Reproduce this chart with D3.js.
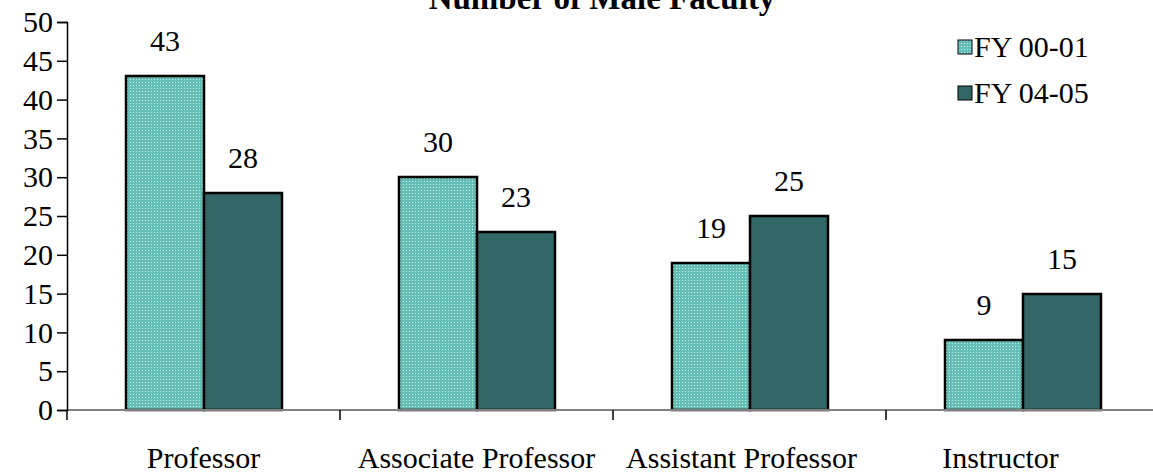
<!DOCTYPE html>
<html>
<head>
<meta charset="utf-8">
<script src="https://cdn.jsdelivr.net/npm/d3@7"></script>
<style>
  html, body { margin: 0; padding: 0; background: #fff; }
  svg { display: block; }
</style>
</head>
<body>
<svg id="chart" width="1153" height="474"></svg>
<script>
const categories = ["Professor", "Associate Professor", "Assistant Professor", "Instructor"];
const seriesNames = ["FY 00-01", "FY 04-05"];
const fy0001 = [43, 30, 19, 9];
const fy0405 = [28, 23, 25, 15];
const yTicks = [0, 5, 10, 15, 20, 25, 30, 35, 40, 45, 50];
const chartTitle = "Number of Male Faculty";

(function () {
const FONT = "Liberation Serif, Tinos, DejaVu Serif, serif";
const svg = d3.select("#chart");
const W = 1153;
const plotLeft = 67, plotRight = 1159, plotTop = 22, plotBottom = 410;
// small horizontal nudges of the category labels, as placed in the reference
const labelShift = [0, 0, -8, -22];

const defs = svg.append("defs");
const pat = defs.append("pattern")
  .attr("id", "dots").attr("x", 0).attr("y", 0).attr("width", 3).attr("height", 3)
  .attr("patternUnits", "userSpaceOnUse");
pat.append("rect").attr("width", 3).attr("height", 3).attr("fill", "#64beb5").attr("shape-rendering", "crispEdges");
pat.append("rect").attr("x", 1).attr("y", 1).attr("width", 1).attr("height", 1)
  .attr("fill", "#cdeeea").attr("shape-rendering", "crispEdges");

const fills = ["url(#dots)", "#336666"];
const flat = [];
categories.forEach((c, i) => {
  flat.push({ cat: c, s: seriesNames[0], v: fy0001[i], j: 0 });
  flat.push({ cat: c, s: seriesNames[1], v: fy0405[i], j: 1 });
});

const x0 = d3.scaleBand().domain(categories).range([plotLeft, plotRight]).padding(0);
const x1 = d3.scaleBand().domain(seriesNames).range([0, x0.bandwidth()])
  .paddingInner(0).paddingOuter(0.75).round(true);
const y = d3.scaleLinear().domain([0, 50]).range([plotBottom, plotTop]);

// Title (cut off at top as in the reference)
svg.append("text")
  .attr("x", 602).attr("y", 9)
  .attr("text-anchor", "middle")
  .attr("font-family", FONT)
  .attr("font-size", 33).attr("font-weight", "bold")
  .text(chartTitle);

// Bars
svg.append("g").selectAll("rect").data(flat).join("rect")
  .attr("x", d => Math.round(x0(d.cat)) + x1(d.s))
  .attr("y", d => Math.round(y(d.v)))
  .attr("width", x1.bandwidth())
  .attr("height", d => Math.round(y(0)) - Math.round(y(d.v)))
  .attr("fill", d => fills[d.j])
  .attr("stroke", "#000").attr("stroke-width", 2.5);

svg.append("g").selectAll("text").data(flat).join("text")
  .attr("x", d => Math.round(x0(d.cat)) + x1(d.s) + x1.bandwidth() / 2)
  .attr("y", d => y(d.v) - 25)
  .attr("text-anchor", "middle")
  .attr("font-family", FONT).attr("font-size", 30)
  .text(d => d.v);

// X axis
svg.append("line")
  .attr("x1", plotLeft).attr("x2", W).attr("y1", plotBottom).attr("y2", plotBottom)
  .attr("stroke", "#808080").attr("stroke-width", 2);
const xTickPos = categories.map(c => x0(c)).concat([plotRight]);
svg.append("g").selectAll("line").data(xTickPos).join("line")
  .attr("x1", d => d).attr("x2", d => d)
  .attr("y1", plotBottom).attr("y2", plotBottom + 10)
  .attr("stroke", "#000").attr("stroke-width", 1.5);
svg.append("g").selectAll("text").data(categories).join("text")
  .attr("x", (d, i) => x0(d) + x0.bandwidth() / 2 + labelShift[i])
  .attr("y", 468)
  .attr("text-anchor", "middle")
  .attr("font-family", FONT).attr("font-size", 30)
  .text(d => d);

// Y axis
const yAxis = d3.axisLeft(y).tickValues(yTicks).tickSize(10).tickPadding(4);
const yg = svg.append("g").attr("transform", `translate(${plotLeft},0)`).call(yAxis)
  .attr("font-family", FONT).attr("font-size", 30);
yg.select(".domain").attr("stroke", "#000").attr("stroke-width", 1.5);
yg.selectAll(".tick line").attr("stroke", "#000").attr("stroke-width", 1.5);
yg.selectAll(".tick text").attr("fill", "#000")
  .attr("font-family", FONT).attr("font-size", 30);

// Legend
const legend = svg.append("g");
const legY = [47, 93];
seriesNames.forEach((s, i) => {
  legend.append("rect")
    .attr("x", 958).attr("y", legY[i] - 7)
    .attr("width", 14).attr("height", 14)
    .attr("fill", fills[i]).attr("stroke", "#000").attr("stroke-width", 1);
  legend.append("text")
    .attr("x", 974).attr("y", legY[i] + 10)
    .attr("font-family", FONT).attr("font-size", 30)
    .text(s);
});
})();
</script>
</body>
</html>
